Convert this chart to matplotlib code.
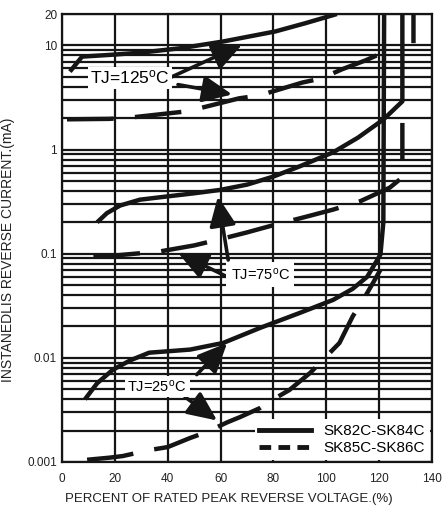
import numpy as np
import matplotlib.pyplot as plt
from matplotlib.lines import Line2D
from matplotlib.ticker import LogLocator, NullFormatter

plt.rcParams['font.family'] = ['Liberation Sans', 'DejaVu Sans']
plt.rcParams['mathtext.default'] = 'regular'

# percent of rated peak reverse voltage / current in mA
# solid = SK82C-SK84C, dashed = SK85C-SK86C
x_s125 = [3, 7.6, 18, 29.5, 45, 61, 80.7, 92, 104]
y_s125 = [5.6, 7.8, 8.1, 8.5, 9.4, 10.9, 13.6, 16.3, 20]
x_s75 = [13.3, 17, 22, 29.5, 40, 50, 60, 70, 80, 90, 102.6, 112, 121.6, 128.8, 128.8]
y_s75 = [0.2, 0.245, 0.29, 0.33, 0.355, 0.38, 0.41, 0.46, 0.55, 0.69, 0.94, 1.3, 1.94, 2.9, 20]
x_s25 = [8.7, 13.3, 19.3, 26, 33, 48.5, 61, 75, 90, 102.6, 110, 115.5, 120.5, 121.6, 121.9]
y_s25 = [0.004, 0.0057, 0.0077, 0.0095, 0.0112, 0.012, 0.0139, 0.0194, 0.027, 0.036, 0.046, 0.06, 0.098, 0.2, 20]

x_d125 = [1.9, 18, 27.6, 45.5, 51, 67, 74.6, 91, 98, 106, 115, 120, np.nan, 133, 133]
y_d125 = [1.95, 1.97, 2.05, 2.3, 2.45, 3.1, 3.3, 4.4, 4.8, 5.9, 7.2, 8.2, np.nan, 10.5, 20]
x_d75 = [11.9, 20, 37, 50, 61, 70, 80.7, 92, 102.6, 113, 124, 128.8, 128.8]
y_d75 = [0.094, 0.096, 0.105, 0.12, 0.14, 0.16, 0.19, 0.225, 0.265, 0.32, 0.43, 0.54, 1.8]
x_d25 = [9.5, 18, 23, 33, 40, 48.5, 55, 62.5, 67.4, 75, 80, 86, 94, 105, 110, 115.5, 117.8, 120.5]
y_d25 = [0.00105, 0.0011, 0.00114, 0.0013, 0.00139, 0.0017, 0.00195, 0.0024, 0.0027, 0.0033,
         0.004, 0.0049, 0.0072, 0.0139, 0.025, 0.042, 0.053, 0.07]

x_ticks = [0, 20, 40, 60, 80, 100, 120, 140]
y_ticks = [0.001, 0.01, 0.1, 1, 10, 20]
y_ticklabels = ['0.001', '0.01', '0.1', '1', '10', '20']
series_names = ['SK82C-SK84C', 'SK85C-SK86C']

k = '#151515'
fig = plt.figure(figsize=(4.44, 5.08), dpi=100)
ax = fig.add_axes([0.1396, 0.0906, 0.8333, 0.8818])
ax.set_yscale('log')
ax.set_xlim(0, 140)
ax.set_ylim(0.001, 20)
ax.set_xticks(x_ticks)
ax.set_yticks(y_ticks)
ax.set_yticklabels(y_ticklabels)
ax.yaxis.set_minor_locator(LogLocator(base=10, subs=range(2, 10)))
ax.yaxis.set_minor_formatter(NullFormatter())
ax.tick_params(which='both', length=0, labelsize=8.5, colors='#222')
ax.tick_params(axis='x', pad=8)
ax.grid(which='both', axis='y', color=k, lw=1.6)
ax.grid(which='major', axis='x', color=k, lw=1.6)
ax.set_axisbelow(True)
for s in ax.spines.values():
    s.set_linewidth(1.6)
    s.set_color(k)

dash = (10.5, 4.8)
for xs, ys in [(x_s125, y_s125), (x_s75, y_s75), (x_s25, y_s25)]:
    ax.plot(xs, ys, color=k, lw=3.2, solid_capstyle='butt', zorder=3)
for xs, ys in [(x_d125, y_d125), (x_d75, y_d75), (x_d25, y_d25)]:
    ax.plot(xs, ys, color=k, lw=3.2, dashes=dash, dash_capstyle='butt', zorder=3)

arrow = dict(arrowstyle='-|>,head_length=1.0,head_width=0.45', lw=2.6, color=k,
             mutation_scale=18, shrinkA=0, shrinkB=0)
box = dict(facecolor='white', edgecolor='none', pad=1.5)

# TJ=125
ax.annotate('', xy=(68.2, 10.2), xytext=(40.9, 4.9), arrowprops=arrow, zorder=4)
ax.annotate('', xy=(64.4, 3.38), xytext=(43.9, 4.2), arrowprops=arrow, zorder=4)
ax.text(25.8, 4.9, 'TJ=125$^{o}$C', ha='center', va='center', fontsize=12.5, bbox=box, zorder=5)

# TJ=75
ax.annotate('', xy=(59, 0.354), xytext=(62.9, 0.087), arrowprops=arrow, zorder=4)
ax.annotate('', xy=(43.9, 0.102), xytext=(62.5, 0.06), arrowprops=arrow, zorder=4)
ax.text(75, 0.063, 'TJ=75$^{o}$C', ha='center', va='center', fontsize=10.5,
        bbox=dict(facecolor='white', edgecolor='none', pad=3), zorder=5)

# TJ=25
ax.annotate('', xy=(62.5, 0.0139), xytext=(51, 0.0069), arrowprops=arrow, zorder=4)
ax.annotate('', xy=(58.7, 0.0025), xytext=(46.6, 0.0042), arrowprops=arrow, zorder=4)
ax.text(36, 0.0053, 'TJ=25$^{o}$C', ha='center', va='center', fontsize=10.5,
        bbox=dict(facecolor='white', edgecolor='none', pad=2), zorder=5)

handles = [Line2D([], [], color=k, lw=3.5),
           Line2D([], [], color=k, lw=3.5, dashes=(2.4, 1.5))]
leg = ax.legend(handles, series_names, loc='lower right', fontsize=11, frameon=True,
                fancybox=False, edgecolor='none', facecolor='white', framealpha=1,
                handlelength=3.4, borderaxespad=0.15, borderpad=0.3, labelspacing=0.2,
                handletextpad=0.8)
leg.set_zorder(6)

ax.set_xlabel('PERCENT OF RATED PEAK REVERSE VOLTAGE.(%)', fontsize=9.5, color='#222')
ax.xaxis.set_label_coords(0.45, -0.07)
ax.set_ylabel('INSTANEDLIS REVERSE CURRENT.(mA)', fontsize=10, color='#222')
ax.yaxis.set_label_coords(-0.127, 0.473)

fig.savefig('out.png', dpi=100)
